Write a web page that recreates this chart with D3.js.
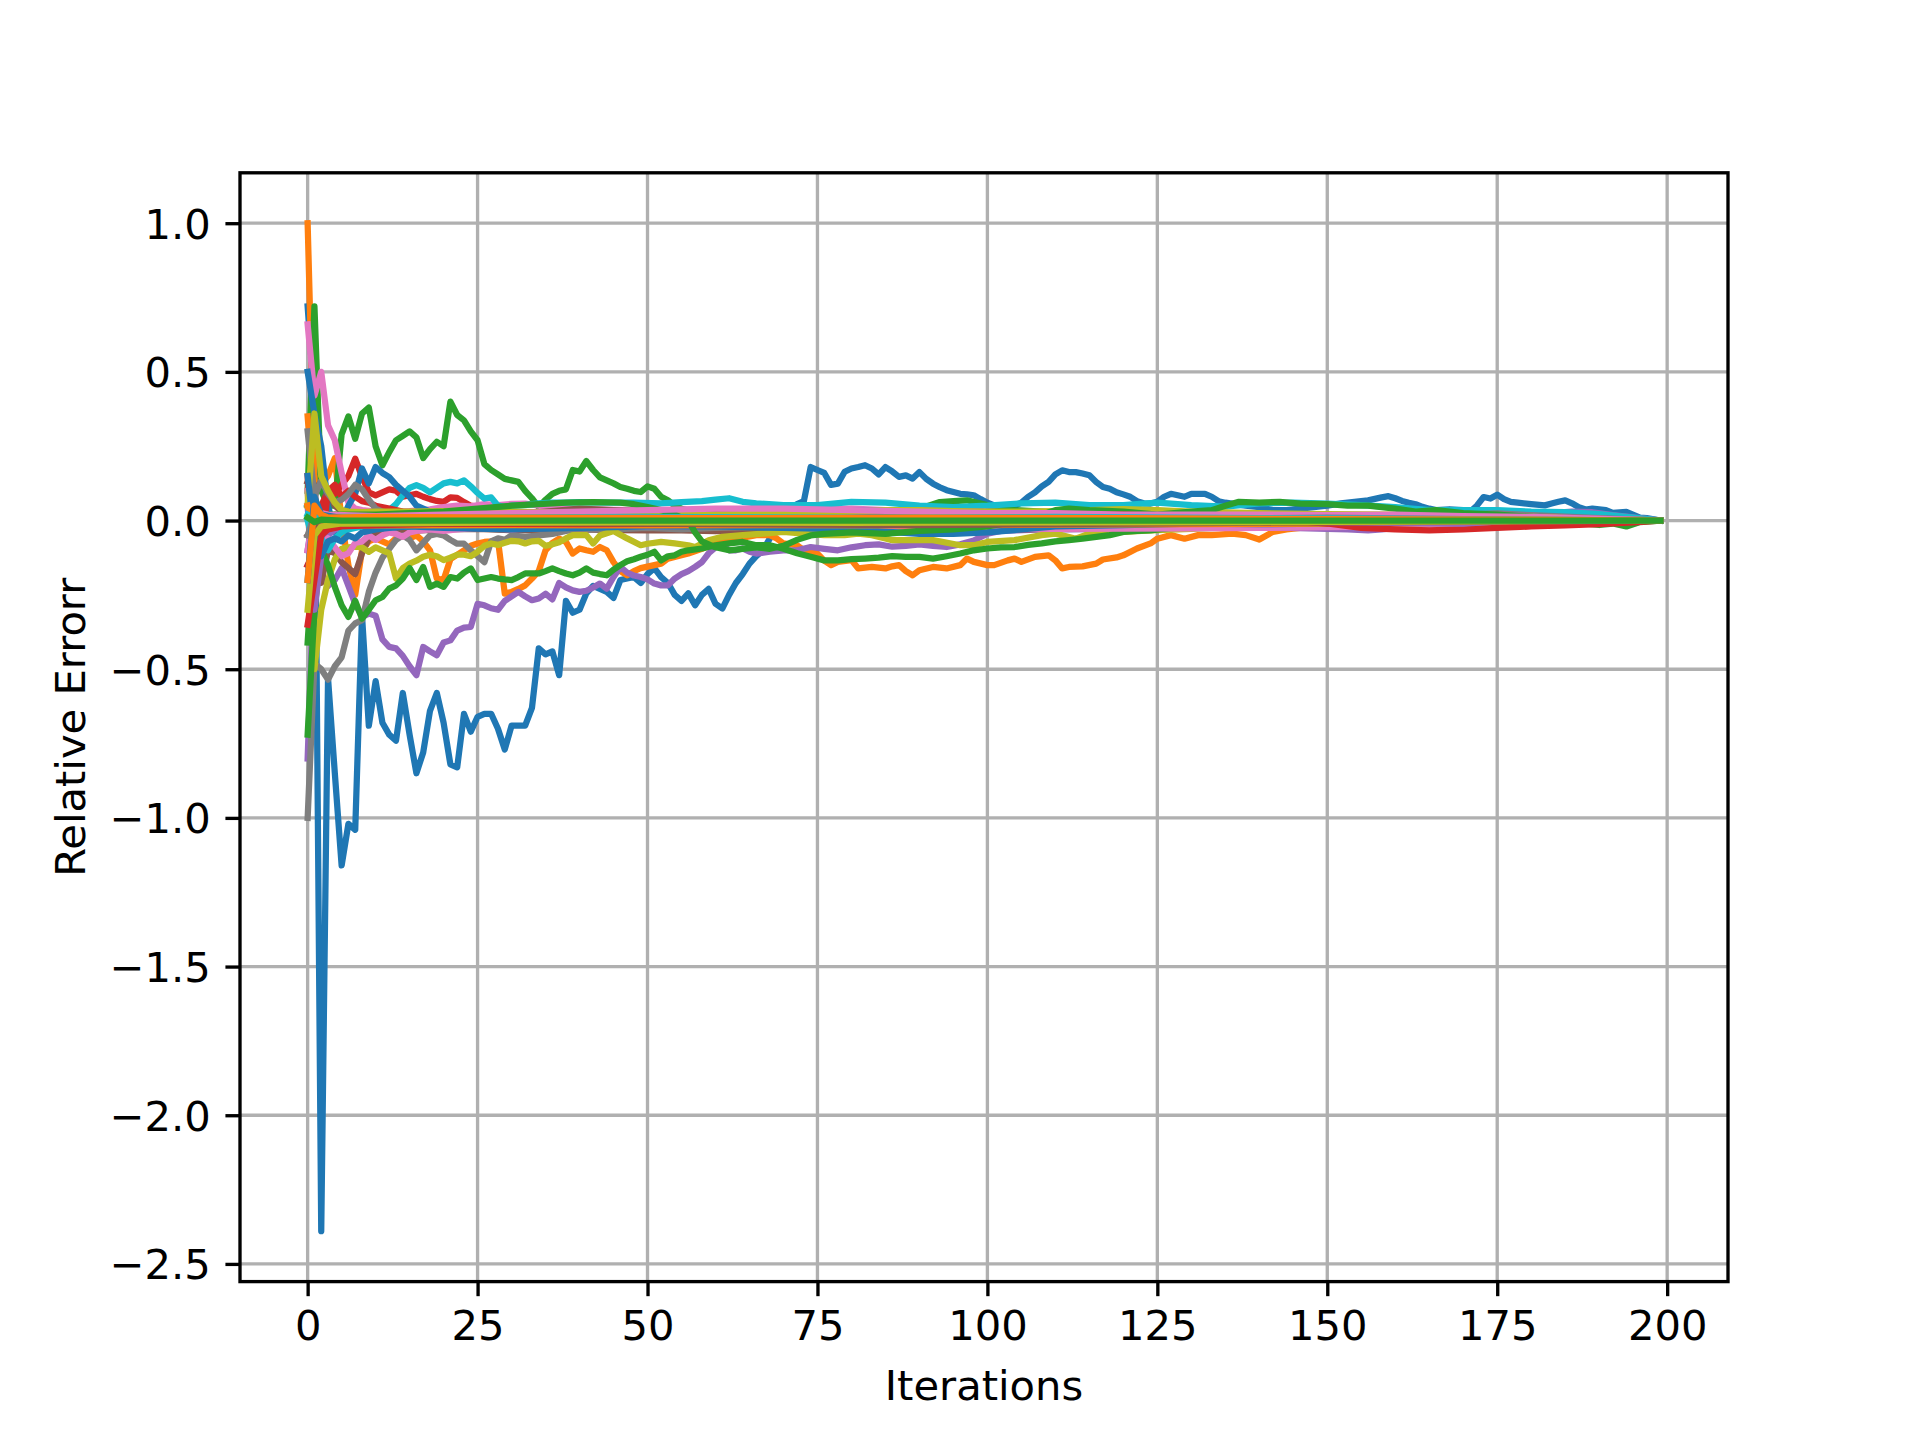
<!DOCTYPE html>
<html>
<head>
<meta charset="utf-8">
<script src="https://cdn.jsdelivr.net/npm/d3@7"></script>
<style>
  body { margin: 0; background: #fff; }
  svg { display: block; }
</style>
</head>
<body>
<svg id="chart"></svg>
<script>
// tick values
const iterTicks = [0, 25, 50, 75, 100, 125, 150, 175, 200];
const errTicks = [-2.5, -2.0, -1.5, -1.0, -0.5, 0.0, 0.5, 1.0];

// each run: [iteration, relative error]
const blueDeep = [[0,0.72],[1,0.4],[2,-2.39],[3,-0.53],[4,-0.85],[5,-1.16],[6,-1.02],[7,-1.04],[8,-0.32],[9,-0.69],[10,-0.54],[11,-0.68],[12,-0.72],[13,-0.74],[14,-0.58],[15,-0.72],[16,-0.85],[17,-0.78],[18,-0.64],[19,-0.58],[20,-0.68],[21,-0.82],[22,-0.83],[23,-0.65],[24,-0.71],[25,-0.66],[26,-0.65],[27,-0.65],[28,-0.7],[29,-0.77],[30,-0.69],[31,-0.69],[32,-0.69],[33,-0.63],[34,-0.43],[35,-0.45],[36,-0.44],[37,-0.52],[38,-0.27],[39,-0.31],[40,-0.3],[41,-0.245],[42,-0.22],[43,-0.23],[44,-0.24],[45,-0.26],[46,-0.2],[47,-0.195],[48,-0.19],[49,-0.21],[50,-0.18],[51,-0.16],[52,-0.19],[53,-0.21],[54,-0.25],[55,-0.27],[56,-0.245],[57,-0.285],[58,-0.25],[59,-0.23],[60,-0.28],[61,-0.296],[62,-0.25],[63,-0.21],[64,-0.18],[65,-0.145],[66,-0.12],[67,-0.1],[68,-0.06],[69,-0.03],[70,0.02],[71,0.04],[72,0.055],[73,0.065],[74,0.18],[75,0.17],[76,0.16],[77,0.12],[78,0.124],[79,0.164],[80,0.175],[81,0.18],[82,0.186],[83,0.175],[84,0.155],[85,0.18],[86,0.165],[87,0.147],[88,0.152],[89,0.141],[90,0.163],[91,0.14],[92,0.124],[93,0.112],[94,0.102],[95,0.096],[96,0.09],[97,0.088],[98,0.085],[99,0.072],[100,0.06],[101,0.051],[102,0.045],[103,0.04],[104,0.05],[105,0.06],[106,0.08],[107,0.095],[108,0.115],[109,0.13],[110,0.155],[111,0.169],[112,0.163],[113,0.163],[114,0.158],[115,0.152],[116,0.13],[117,0.113],[118,0.107],[119,0.095],[120,0.088],[121,0.08],[122,0.065],[123,0.058],[124,0.057],[125,0.063],[126,0.08],[127,0.09],[128,0.085],[129,0.08],[130,0.09],[131,0.09],[132,0.09],[133,0.08],[134,0.065],[135,0.06],[136,0.057],[138,0.05],[140,0.045],[142,0.035],[144,0.035],[146,0.04],[148,0.045],[150,0.05],[152,0.058],[154,0.063],[156,0.068],[158,0.078],[159,0.082],[160,0.075],[161,0.066],[162,0.06],[163,0.055],[164,0.046],[165,0.04],[166,0.035],[168,0.038],[170,0.035],[171,0.029],[172,0.05],[173,0.079],[174,0.074],[175,0.087],[176,0.072],[177,0.063],[178,0.06],[180,0.055],[182,0.051],[183,0.057],[184,0.063],[185,0.068],[186,0.058],[187,0.045],[188,0.037],[189,0.04],[191,0.035],[192,0.026],[194,0.029],[196,0.01],[197,0.008],[199,0]];
const orangeSpike = [[0,1.0],[1,0.15],[2,0.12],[3,0.15],[4,0.21],[5,0.0],[6,-0.15],[7,-0.25],[8,-0.1],[9,-0.07],[10,-0.06],[11,-0.07],[12,-0.08],[13,-0.06],[14,-0.05],[15,-0.06],[16,-0.05],[17,-0.07],[18,-0.1],[19,-0.195],[20,-0.2],[21,-0.13],[22,-0.115],[23,-0.1],[24,-0.085],[25,-0.077],[26,-0.072],[27,-0.07],[28,-0.066],[29,-0.246],[30,-0.24],[31,-0.23],[32,-0.218],[33,-0.195],[34,-0.17],[35,-0.1],[36,-0.075],[37,-0.061],[38,-0.072],[39,-0.111],[40,-0.094],[41,-0.1],[42,-0.105],[43,-0.089],[44,-0.1],[45,-0.14],[46,-0.17],[47,-0.184],[48,-0.17],[49,-0.16],[50,-0.155],[52,-0.145],[53,-0.128],[55,-0.117],[56,-0.111],[58,-0.095],[60,-0.077],[62,-0.066],[64,-0.058],[66,-0.049],[68,-0.049],[69,-0.06],[70,-0.077],[72,-0.083],[73,-0.1],[75,-0.111],[76,-0.135],[77,-0.15],[78,-0.139],[80,-0.133],[81,-0.161],[83,-0.156],[85,-0.161],[86,-0.154],[87,-0.15],[88,-0.17],[89,-0.184],[90,-0.167],[92,-0.156],[94,-0.161],[96,-0.15],[97,-0.128],[98,-0.139],[100,-0.15],[101,-0.15],[103,-0.134],[104,-0.128],[105,-0.139],[107,-0.122],[109,-0.117],[110,-0.134],[111,-0.161],[112,-0.156],[114,-0.154],[116,-0.145],[117,-0.131],[119,-0.124],[120,-0.117],[122,-0.094],[124,-0.077],[125,-0.061],[127,-0.049],[129,-0.061],[131,-0.049],[133,-0.049],[136,-0.044],[138,-0.049],[140,-0.064],[142,-0.038],[144,-0.03],[146,-0.025],[150,-0.022],[155,-0.02],[160,-0.015],[165,-0.014],[170,-0.01],[175,-0.012],[180,-0.008],[185,-0.01],[190,-0.005],[195,-0.003],[199,0]];
const greenHigh = [[0,0.1],[1,0.72],[2,0.1],[3,0.05],[4,0.05],[5,0.29],[6,0.35],[7,0.275],[8,0.36],[9,0.38],[10,0.25],[11,0.186],[12,0.23],[13,0.27],[14,0.285],[15,0.3],[16,0.28],[17,0.21],[18,0.24],[19,0.265],[20,0.25],[21,0.4],[22,0.355],[23,0.337],[24,0.3],[25,0.27],[26,0.19],[27,0.17],[28,0.155],[29,0.14],[30,0.135],[31,0.13],[32,0.1],[33,0.075],[34,0.045],[35,0.07],[36,0.09],[37,0.1],[38,0.105],[39,0.17],[40,0.165],[41,0.2],[42,0.17],[43,0.145],[44,0.135],[45,0.125],[46,0.113],[47,0.107],[48,0.1],[49,0.096],[50,0.115],[51,0.107],[52,0.08],[53,0.068],[54,0.05],[55,0.04],[56,0.034],[58,0.03],[62,0.028],[66,0.025],[70,0.02],[75,0.018],[80,0.02],[85,0.02],[88,0.03],[90,0.04],[92,0.055],[93,0.062],[95,0.065],[97,0.068],[99,0.057],[101,0.046],[104,0.035],[108,0.03],[112,0.025],[116,0.02],[120,0.02],[125,0.015],[130,0.012],[140,0.01],[150,0.01],[160,0.008],[170,0.006],[180,0.005],[190,0.003],[199,0]];
const redPeak = [[0,-0.15],[1,-0.1],[2,0.05],[3,0.1],[4,0.09],[5,0.12],[6,0.15],[7,0.208],[8,0.147],[9,0.095],[10,0.085],[11,0.095],[12,0.105],[13,0.1],[14,0.08],[15,0.085],[16,0.09],[17,0.08],[18,0.072],[19,0.066],[20,0.063],[21,0.078],[22,0.076],[23,0.062],[24,0.05],[25,0.046],[26,0.035],[27,0.028],[30,0.025],[35,0.02],[40,0.018],[50,0.015],[60,0.012],[70,0.012],[80,0.01],[90,0.015],[100,0.012],[110,0.01],[120,0.008],[130,0.006],[140,0.004],[150,0.0],[160,-0.005],[170,-0.008],[180,-0.006],[190,-0.004],[199,0]];
const purpleLow = [[0,-0.8],[1,-0.15],[2,-0.18],[3,-0.22],[4,-0.2],[5,-0.16],[6,-0.22],[7,-0.28],[8,-0.324],[9,-0.313],[10,-0.32],[11,-0.4],[12,-0.425],[13,-0.43],[14,-0.455],[15,-0.49],[16,-0.52],[17,-0.425],[18,-0.44],[19,-0.453],[20,-0.41],[21,-0.403],[22,-0.37],[23,-0.36],[24,-0.358],[25,-0.28],[26,-0.285],[27,-0.295],[28,-0.3],[29,-0.27],[30,-0.255],[31,-0.24],[32,-0.255],[33,-0.268],[34,-0.262],[35,-0.246],[36,-0.265],[37,-0.21],[38,-0.225],[39,-0.235],[40,-0.24],[41,-0.236],[42,-0.225],[43,-0.212],[44,-0.229],[45,-0.19],[46,-0.156],[47,-0.175],[48,-0.185],[49,-0.19],[50,-0.198],[51,-0.212],[52,-0.218],[53,-0.218],[54,-0.195],[55,-0.18],[56,-0.17],[57,-0.156],[58,-0.14],[59,-0.11],[60,-0.09],[61,-0.083],[62,-0.1],[63,-0.1],[64,-0.094],[65,-0.105],[66,-0.111],[68,-0.105],[70,-0.1],[72,-0.1],[74,-0.089],[76,-0.095],[78,-0.1],[80,-0.09],[82,-0.083],[84,-0.08],[86,-0.088],[88,-0.085],[90,-0.08],[92,-0.085],[94,-0.089],[96,-0.08],[98,-0.067],[100,-0.044],[102,-0.035],[104,-0.033],[108,-0.03],[112,-0.03],[118,-0.028],[125,-0.03],[130,-0.025],[140,-0.022],[150,-0.028],[153,-0.03],[156,-0.033],[158,-0.03],[162,-0.02],[168,-0.012],[175,-0.005],[180,0.01],[183,0.025],[186,0.03],[189,0.028],[192,0.018],[196,0.008],[199,0]];
const brownDip = [[0,0.13],[1,0.12],[2,-0.21],[3,-0.1],[4,-0.11],[5,-0.14],[6,-0.16],[7,-0.18],[8,-0.11],[9,-0.06],[10,-0.045],[12,-0.035],[15,-0.035],[20,-0.03],[25,-0.028],[30,-0.032],[35,-0.033],[40,-0.03],[45,-0.032],[50,-0.033],[55,-0.033],[60,-0.036],[65,-0.033],[70,-0.03],[75,-0.028],[80,-0.032],[85,-0.033],[90,-0.03],[95,-0.032],[100,-0.03],[105,-0.03],[110,-0.028],[115,-0.025],[120,-0.022],[125,-0.018],[130,-0.016],[140,-0.012],[150,-0.01],[160,-0.008],[170,-0.006],[180,-0.004],[190,-0.002],[199,0]];
const pinkStart = [[0,0.66],[1,0.42],[2,0.5],[3,0.32],[4,0.27],[5,0.16],[6,0.06],[7,0.04],[8,0.035],[10,0.03],[12,0.028],[15,0.032],[18,0.038],[20,0.045],[22,0.05],[24,0.048],[26,0.055],[28,0.052],[30,0.056],[32,0.057],[34,0.05],[36,0.042],[40,0.038],[45,0.036],[50,0.035],[55,0.035],[60,0.036],[65,0.035],[70,0.04],[75,0.038],[80,0.04],[85,0.035],[90,0.03],[95,0.03],[100,0.028],[105,0.025],[110,0.027],[115,0.03],[120,0.028],[125,0.025],[130,0.02],[140,0.02],[150,0.018],[160,0.016],[170,0.015],[180,0.012],[190,0.008],[199,0]];
const grayLow = [[0,-1.0],[1,-0.48],[2,-0.5],[3,-0.535],[4,-0.49],[5,-0.46],[6,-0.37],[7,-0.346],[8,-0.335],[9,-0.24],[10,-0.175],[11,-0.125],[12,-0.095],[13,-0.065],[14,-0.05],[15,-0.065],[16,-0.1],[17,-0.075],[18,-0.05],[19,-0.045],[20,-0.05],[21,-0.065],[22,-0.078],[23,-0.078],[24,-0.1],[25,-0.12],[26,-0.14],[27,-0.07],[28,-0.06],[29,-0.065],[30,-0.05],[32,-0.055],[34,-0.05],[36,-0.045],[38,-0.035],[40,-0.03],[45,-0.03],[50,-0.025],[55,-0.03],[60,-0.025],[70,-0.02],[80,-0.02],[90,-0.018],[100,-0.015],[110,-0.014],[120,-0.012],[130,-0.01],[140,-0.01],[150,-0.008],[160,-0.006],[170,-0.004],[180,-0.003],[190,-0.002],[199,0]];
const oliveLow = [[0,0.1],[1,-0.5],[2,-0.3],[3,-0.2],[4,-0.13],[5,-0.095],[6,-0.09],[7,-0.088],[8,-0.09],[9,-0.105],[10,-0.09],[11,-0.1],[12,-0.11],[13,-0.195],[14,-0.16],[15,-0.145],[16,-0.135],[17,-0.122],[18,-0.115],[19,-0.12],[20,-0.133],[21,-0.125],[22,-0.115],[23,-0.115],[24,-0.12],[25,-0.105],[26,-0.085],[27,-0.077],[28,-0.082],[29,-0.075],[30,-0.068],[31,-0.07],[32,-0.077],[33,-0.07],[34,-0.068],[35,-0.085],[36,-0.08],[37,-0.073],[38,-0.06],[39,-0.049],[41,-0.049],[42,-0.077],[43,-0.05],[45,-0.035],[47,-0.06],[49,-0.083],[50,-0.078],[52,-0.072],[54,-0.077],[56,-0.083],[57,-0.089],[59,-0.066],[61,-0.055],[64,-0.049],[67,-0.044],[70,-0.038],[73,-0.044],[76,-0.049],[79,-0.049],[81,-0.044],[83,-0.049],[85,-0.06],[86,-0.066],[88,-0.066],[92,-0.066],[96,-0.083],[98,-0.083],[100,-0.072],[104,-0.066],[108,-0.049],[110,-0.044],[113,-0.061],[115,-0.044],[120,-0.038],[124,-0.033],[130,-0.028],[140,-0.02],[150,-0.016],[160,-0.012],[170,-0.01],[180,-0.006],[190,-0.004],[199,0]];
const cyanHump = [[0,0.05],[1,0.03],[2,0.02],[4,0.015],[6,0.02],[8,0.015],[10,0.01],[11,0.02],[12,0.035],[13,0.055],[14,0.085],[15,0.11],[16,0.119],[17,0.11],[18,0.095],[19,0.11],[20,0.125],[21,0.13],[22,0.125],[23,0.135],[24,0.115],[25,0.093],[26,0.074],[27,0.078],[28,0.05],[29,0.046],[30,0.05],[32,0.052],[34,0.058],[36,0.06],[38,0.06],[40,0.062],[44,0.06],[48,0.06],[52,0.058],[55,0.062],[58,0.065],[60,0.07],[62,0.075],[64,0.063],[66,0.058],[70,0.052],[75,0.052],[80,0.063],[85,0.06],[90,0.05],[95,0.045],[100,0.05],[105,0.058],[110,0.06],[115,0.052],[120,0.052],[125,0.06],[130,0.052],[135,0.047],[140,0.058],[145,0.06],[150,0.057],[155,0.052],[160,0.045],[165,0.035],[170,0.035],[175,0.035],[180,0.03],[185,0.028],[190,0.022],[195,0.01],[199,0]];
const blueEarly = [[0,0.5],[1,0.36],[2,0.25],[3,0.05],[4,-0.04],[5,0.0],[6,0.05],[7,0.09],[8,0.175],[9,0.125],[10,0.18],[11,0.16],[12,0.146],[13,0.12],[14,0.1],[15,0.08],[16,0.05],[17,0.04],[18,0.03],[20,0.03],[25,0.025],[30,0.02],[35,0.02],[40,0.015],[50,0.012],[60,0.01],[70,0.008],[90,0.01],[110,0.008],[130,0.006],[150,0.005],[170,0.003],[199,0]];
const orangeSmall = [[0,0.35],[1,0.05],[2,-0.03],[3,0.0],[4,0.02],[5,0.015],[8,0.022],[12,0.02],[20,0.025],[30,0.022],[40,0.02],[50,0.02],[60,0.018],[70,0.015],[80,0.012],[90,0.015],[100,0.014],[110,0.012],[120,0.01],[140,0.006],[160,0.004],[180,0.002],[199,0]];
const greenLow = [[0,-0.72],[1,-0.3],[2,-0.1],[3,-0.15],[4,-0.223],[5,-0.285],[6,-0.324],[7,-0.27],[8,-0.33],[9,-0.3],[10,-0.268],[11,-0.257],[12,-0.229],[13,-0.218],[14,-0.195],[15,-0.16],[16,-0.2],[17,-0.156],[18,-0.223],[19,-0.212],[20,-0.223],[21,-0.19],[22,-0.195],[23,-0.175],[24,-0.161],[25,-0.2],[26,-0.195],[27,-0.19],[28,-0.195],[29,-0.198],[30,-0.2],[31,-0.19],[32,-0.178],[33,-0.178],[34,-0.178],[35,-0.17],[36,-0.161],[37,-0.17],[38,-0.178],[39,-0.184],[40,-0.175],[41,-0.161],[42,-0.175],[43,-0.18],[44,-0.184],[45,-0.165],[46,-0.15],[47,-0.137],[48,-0.13],[49,-0.122],[50,-0.115],[51,-0.105],[52,-0.134],[53,-0.12],[54,-0.117],[55,-0.105],[56,-0.1],[58,-0.094],[60,-0.083],[62,-0.077],[64,-0.072],[66,-0.083],[68,-0.083],[70,-0.095],[72,-0.11],[74,-0.122],[76,-0.134],[78,-0.134],[80,-0.13],[82,-0.128],[84,-0.125],[86,-0.12],[88,-0.122],[90,-0.122],[92,-0.128],[94,-0.12],[96,-0.111],[98,-0.1],[100,-0.094],[102,-0.09],[104,-0.089],[106,-0.082],[108,-0.077],[110,-0.07],[112,-0.066],[114,-0.061],[116,-0.055],[118,-0.049],[120,-0.038],[122,-0.035],[124,-0.033],[127,-0.025],[130,-0.021],[140,-0.015],[150,-0.01],[160,-0.008],[170,-0.006],[180,-0.004],[190,-0.002],[199,0]];
const redSmall = [[0,0.15],[1,-0.25],[2,-0.1],[3,0.1],[4,0.12],[5,0.08],[6,0.1],[7,0.08],[8,0.065],[9,0.06],[10,0.05],[12,0.04],[14,0.03],[16,0.028],[20,0.025],[25,0.02],[30,0.018],[40,0.015],[50,0.01],[60,0.012],[70,0.01],[80,0.008],[90,0.01],[100,0.012],[110,0.015],[120,0.012],[130,0.01],[140,0.005],[150,0.0],[160,-0.008],[165,-0.02],[170,-0.02],[175,-0.015],[180,-0.01],[190,-0.005],[199,0]];
const purpleSmall = [[0,0.05],[1,-0.3],[2,-0.12],[3,-0.05],[4,-0.03],[6,-0.02],[10,-0.015],[20,-0.01],[40,0.0],[60,0.02],[65,0.03],[70,0.035],[80,0.035],[90,0.033],[100,0.03],[110,0.02],[120,0.01],[130,0.0],[140,-0.01],[150,-0.02],[155,-0.03],[160,-0.025],[170,-0.015],[180,-0.01],[190,-0.005],[199,0]];
const brownSmall = [[0,0.05],[1,0.1],[2,0.13],[3,0.1],[4,0.05],[5,0.03],[8,0.02],[12,0.01],[20,0.015],[30,0.02],[35,0.03],[40,0.04],[45,0.035],[50,0.03],[60,0.025],[70,0.02],[80,0.025],[90,0.02],[100,0.015],[120,0.01],[140,0.008],[160,0.005],[180,0.003],[199,0]];
const pinkNeg = [[0,0.1],[1,-0.15],[2,-0.1],[3,-0.06],[4,-0.09],[5,-0.12],[6,-0.11],[7,-0.075],[8,-0.07],[9,-0.05],[10,-0.065],[11,-0.05],[12,-0.04],[13,-0.045],[14,-0.055],[15,-0.04],[16,-0.035],[18,-0.03],[20,-0.035],[22,-0.03],[25,-0.025],[30,-0.03],[35,-0.025],[40,-0.02],[50,-0.02],[60,-0.018],[70,-0.02],[80,-0.022],[90,-0.025],[100,-0.027],[110,-0.028],[120,-0.027],[130,-0.026],[140,-0.025],[150,-0.022],[160,-0.02],[170,-0.018],[180,-0.012],[190,-0.006],[199,0]];
const grayHigh = [[0,0.3],[1,0.08],[2,0.135],[3,0.09],[4,0.06],[5,0.07],[6,0.09],[7,0.12],[8,0.105],[9,0.07],[10,0.04],[11,0.03],[12,0.025],[14,0.02],[16,0.018],[20,0.015],[25,0.015],[30,0.01],[40,0.01],[60,0.008],[80,0.01],[100,0.008],[120,0.005],[140,0.01],[160,0.015],[170,0.02],[175,0.024],[180,0.018],[190,0.008],[199,0]];
const oliveHigh = [[0,0.05],[1,0.36],[2,0.15],[3,0.1],[4,0.06],[5,0.035],[6,0.03],[8,0.028],[10,0.03],[15,0.03],[20,0.032],[25,0.035],[30,0.03],[40,0.025],[50,0.02],[60,0.02],[70,0.025],[80,0.03],[85,0.035],[90,0.035],[95,0.032],[100,0.03],[105,0.03],[110,0.032],[115,0.035],[120,0.038],[125,0.035],[130,0.03],[140,0.025],[150,0.022],[160,0.02],[170,0.018],[180,0.012],[190,0.006],[199,0]];
const cyanNeg = [[0,0.0],[1,-0.08],[2,-0.06],[3,-0.1],[4,-0.06],[5,-0.04],[6,-0.03],[8,-0.02],[10,-0.025],[15,-0.02],[20,-0.015],[30,-0.01],[40,-0.008],[60,-0.006],[80,-0.005],[100,-0.004],[130,-0.003],[160,-0.002],[199,0]];
const blueNeg = [[0,0.15],[1,-0.05],[2,-0.12],[3,-0.07],[4,-0.06],[5,-0.07],[6,-0.05],[7,-0.06],[8,-0.04],[9,-0.035],[10,-0.03],[12,-0.025],[15,-0.02],[20,-0.025],[30,-0.03],[40,-0.025],[50,-0.02],[60,-0.02],[70,-0.025],[80,-0.03],[90,-0.045],[95,-0.045],[100,-0.04],[110,-0.02],[120,-0.015],[130,-0.01],[140,-0.012],[150,-0.01],[160,-0.008],[170,-0.006],[180,-0.004],[190,-0.002],[199,0]];
const orangeFlat = [[0,0.05],[1,-0.02],[2,-0.015],[10,-0.016],[30,-0.015],[50,-0.016],[70,-0.015],[90,-0.016],[110,-0.014],[130,-0.012],[150,-0.01],[170,-0.008],[190,-0.004],[199,0]];
const greenMid = [[0,-0.41],[1,-0.05],[2,0.02],[5,0.02],[10,0.02],[20,0.03],[25,0.04],[30,0.05],[34,0.055],[38,0.06],[42,0.062],[46,0.06],[48,0.055],[50,0.045],[52,0.035],[54,0.02],[56,0.0],[57,-0.04],[58,-0.07],[60,-0.09],[62,-0.1],[64,-0.095],[66,-0.09],[68,-0.095],[70,-0.085],[72,-0.065],[74,-0.05],[76,-0.045],[80,-0.04],[85,-0.045],[90,-0.035],[95,-0.03],[100,-0.02],[105,0.0],[108,0.02],[110,0.035],[112,0.04],[115,0.035],[120,0.03],[125,0.02],[130,0.03],[133,0.035],[135,0.05],[137,0.063],[140,0.06],[143,0.063],[146,0.057],[150,0.055],[153,0.05],[156,0.05],[158,0.045],[160,0.04],[163,0.03],[166,0.035],[170,0.025],[175,0.02],[180,0.012],[185,0.0],[188,-0.01],[190,-0.015],[192,-0.01],[194,-0.02],[196,-0.005],[199,0]];
const redFlat = [[0,-0.35],[1,-0.2],[2,-0.05],[3,-0.03],[5,-0.02],[10,-0.015],[20,-0.01],[40,-0.012],[60,-0.01],[80,0.0],[100,0.012],[110,0.018],[120,0.02],[130,0.015],[140,0.01],[150,-0.01],[155,-0.025],[160,-0.03],[165,-0.033],[170,-0.03],[175,-0.025],[180,-0.02],[185,-0.016],[190,-0.012],[195,-0.006],[199,0]];
const purpleFlat = [[0,-0.1],[1,0.05],[2,0.02],[5,0.01],[10,0.005],[30,0.0],[50,-0.005],[70,-0.01],[90,0.0],[110,0.005],[130,0.0],[150,-0.005],[170,-0.01],[185,0.01],[199,0]];
const brownFlat = [[0,-0.05],[1,-0.02],[3,-0.01],[10,-0.01],[30,-0.008],[60,-0.012],[90,-0.015],[120,-0.01],[150,-0.006],[180,-0.003],[199,0]];
const pinkFlat = [[0,-0.1],[1,0.03],[3,0.02],[10,0.015],[20,0.02],[30,0.025],[40,0.03],[50,0.035],[60,0.04],[70,0.04],[80,0.035],[90,0.03],[100,0.025],[110,0.025],[120,0.02],[130,0.02],[140,0.02],[150,0.018],[160,0.02],[170,0.015],[180,0.012],[190,0.006],[199,0]];
const grayFlat = [[0,-0.05],[1,0.02],[3,0.005],[10,0.0],[30,0.005],[50,-0.005],[70,0.005],[90,0.0],[110,-0.005],[130,0.005],[150,0.01],[170,0.005],[199,0]];
const oliveFlat = [[0,-0.3],[1,-0.05],[2,-0.02],[5,-0.01],[20,-0.008],[50,-0.006],[80,-0.008],[110,-0.006],[140,-0.005],[170,-0.003],[199,0]];
const cyanFlat = [[0,0.02],[1,0.01],[5,0.012],[20,0.01],[50,0.012],[80,0.01],[110,0.012],[140,0.008],[170,0.005],[199,0]];
const blueFlat = [[0,-0.2],[1,0.08],[2,0.02],[5,0.008],[20,0.005],[50,0.006],[80,0.004],[110,0.005],[140,0.004],[170,0.002],[199,0]];
const orangeLast = [[0,-0.2],[1,0.05],[2,0.02],[3,0.01],[10,0.012],[30,0.01],[60,0.008],[90,0.01],[120,0.008],[150,0.005],[180,0.003],[199,0]];
const greenZero = [[0,0.01],[1,-0.005],[2,0.003],[5,0.0],[199,0]];

const runs = [
  blueDeep, orangeSpike, greenHigh, redPeak, purpleLow, brownDip, pinkStart, grayLow, oliveLow, cyanHump,
  blueEarly, orangeSmall, greenLow, redSmall, purpleSmall, brownSmall, pinkNeg, grayHigh, oliveHigh, cyanNeg,
  blueNeg, orangeFlat, greenMid, redFlat, purpleFlat, brownFlat, pinkFlat, grayFlat, oliveFlat, cyanFlat,
  blueFlat, orangeLast, greenZero
];

const width = 1920;
const height = 1440;
const marginTop = 172.8;
const marginRight = 192;
const marginBottom = 158.4;
const marginLeft = 240;
const pt = 300 / 72; // matplotlib points -> px at 300 dpi
const font = "DejaVu Sans";
const fontSize = 10 * pt;

const x = d3.scaleLinear()
    .domain([-9.95, 208.95])
    .range([marginLeft, width - marginRight]);

const y = d3.scaleLinear()
    .domain([-2.5595, 1.1695])
    .range([height - marginBottom, marginTop]);

const svg = d3.select("#chart")
    .attr("width", width)
    .attr("height", height)
    .style("font-family", font);

svg.append("rect")
    .attr("width", width)
    .attr("height", height)
    .attr("fill", "#fff");

// grid
svg.append("g")
    .selectAll("line")
    .data(iterTicks)
    .join("line")
    .attr("x1", d => x(d)).attr("x2", d => x(d))
    .attr("y1", marginTop).attr("y2", height - marginBottom)
    .attr("stroke", "#b0b0b0")
    .attr("stroke-width", 0.8 * pt);

svg.append("g")
    .selectAll("line")
    .data(errTicks)
    .join("line")
    .attr("x1", marginLeft).attr("x2", width - marginRight)
    .attr("y1", d => y(d)).attr("y2", d => y(d))
    .attr("stroke", "#b0b0b0")
    .attr("stroke-width", 0.8 * pt);

svg.append("clipPath")
    .attr("id", "plot-clip")
    .append("rect")
    .attr("x", marginLeft)
    .attr("y", marginTop)
    .attr("width", width - marginLeft - marginRight)
    .attr("height", height - marginTop - marginBottom);

const line = d3.line()
    .x(d => x(d[0]))
    .y(d => y(d[1]));

const color = d3.scaleOrdinal(d3.schemeCategory10);

svg.append("g")
    .attr("clip-path", "url(#plot-clip)")
    .selectAll("path")
    .data(runs)
    .join("path")
    .attr("fill", "none")
    .attr("stroke", (d, i) => color(i % 10))
    .attr("stroke-width", 1.5 * pt)
    .attr("stroke-linejoin", "round")
    .attr("stroke-linecap", "square")
    .attr("d", line);

// axes
const xAxis = d3.axisBottom(x)
    .tickValues(iterTicks)
    .tickSize(3.5 * pt)
    .tickPadding(3.5 * pt)
    .tickFormat(d3.format("d"));

svg.append("g")
    .attr("transform", `translate(0,${height - marginBottom})`)
    .call(xAxis)
    .call(g => g.select(".domain").remove())
    .call(g => g.selectAll(".tick line").attr("stroke", "#000").attr("stroke-width", 0.8 * pt))
    .call(g => g.selectAll(".tick text")
        .attr("fill", "#000")
        .attr("font-family", font)
        .attr("font-size", fontSize));

const yAxis = d3.axisLeft(y)
    .tickValues(errTicks)
    .tickSize(3.5 * pt)
    .tickPadding(3.5 * pt)
    .tickFormat(d3.format(".1f"));

svg.append("g")
    .attr("transform", `translate(${marginLeft},0)`)
    .call(yAxis)
    .call(g => g.select(".domain").remove())
    .call(g => g.selectAll(".tick line").attr("stroke", "#000").attr("stroke-width", 0.8 * pt))
    .call(g => g.selectAll(".tick text")
        .attr("fill", "#000")
        .attr("font-family", font)
        .attr("font-size", fontSize)
        .attr("dy", "0.36em"));

// spines
svg.append("rect")
    .attr("x", marginLeft)
    .attr("y", marginTop)
    .attr("width", width - marginLeft - marginRight)
    .attr("height", height - marginTop - marginBottom)
    .attr("fill", "none")
    .attr("stroke", "#000")
    .attr("stroke-width", 0.8 * pt);

svg.append("text")
    .attr("x", (marginLeft + width - marginRight) / 2)
    .attr("y", 1400)
    .attr("text-anchor", "middle")
    .attr("font-size", fontSize)
    .attr("fill", "#000")
    .text("Iterations");

svg.append("text")
    .attr("transform", `translate(85,${(marginTop + height - marginBottom) / 2}) rotate(-90)`)
    .attr("text-anchor", "middle")
    .attr("font-size", fontSize)
    .attr("fill", "#000")
    .text("Relative Errorr");
</script>
</body>
</html>
